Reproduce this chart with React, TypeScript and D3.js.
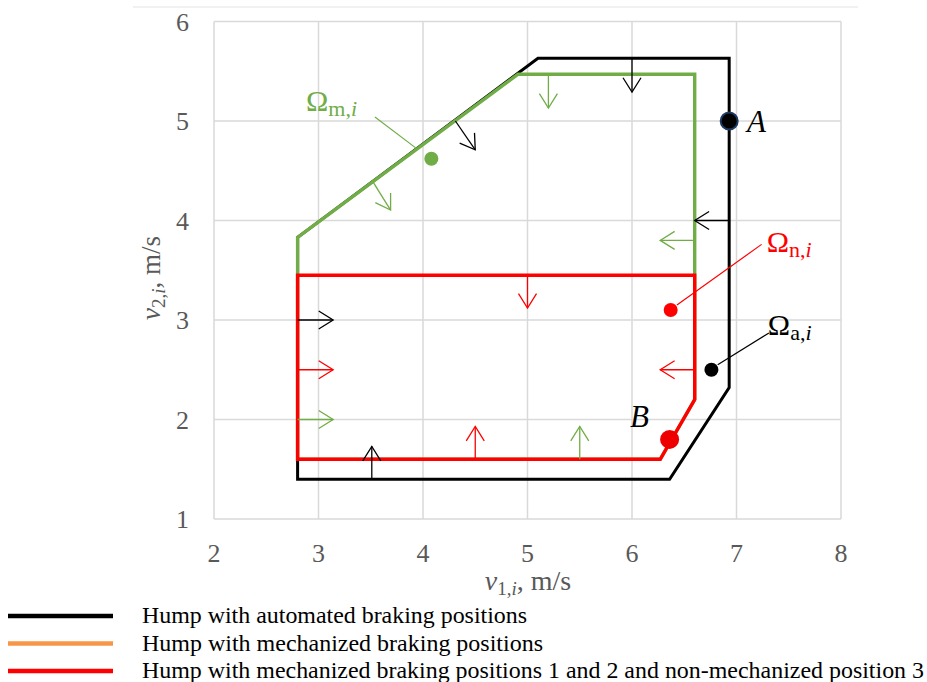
import React from "react";
import * as d3 from "d3";

const xTicks = [2, 3, 4, 5, 6, 7, 8];
const yTicks = [1, 2, 3, 4, 5, 6];

// Regions (v1, v2)
const automatedRegion: [number, number][] = [
  [2.8, 1.4], [6.36, 1.4], [6.93, 2.32], [6.93, 5.63], [5.1, 5.63], [2.8, 3.83],
];
const mechanizedRegion: [number, number][] = [
  [2.8, 3.83], [4.91, 5.47], [6.6, 5.47], [6.6, 2.2], [6.27, 1.6], [2.8, 1.6],
];
const mixedRegion: [number, number][] = [
  [2.8, 3.45], [6.6, 3.45], [6.6, 2.2], [6.27, 1.6], [2.8, 1.6],
];

type Arrow = { from: [number, number]; to: [number, number]; color: string };
const BLACK = "#000000";
const GREEN = "#70ad47";
const RED = "#ff0000";
const ORANGE = "#f79646";

const arrowsAutomated: Arrow[] = [
  { from: [4.31, 5.0], to: [4.5, 4.71], color: BLACK },
  { from: [6.0, 5.63], to: [6.0, 5.29], color: BLACK },
  { from: [6.93, 4.0], to: [6.6, 4.0], color: BLACK },
  { from: [2.8, 3.0], to: [3.14, 3.0], color: BLACK },
  { from: [3.51, 1.4], to: [3.51, 1.73], color: BLACK },
];
const arrowsMechanized: Arrow[] = [
  { from: [3.52, 4.39], to: [3.69, 4.105], color: GREEN },
  { from: [5.2, 5.47], to: [5.2, 5.13], color: GREEN },
  { from: [6.6, 3.8], to: [6.27, 3.8], color: GREEN },
  { from: [2.8, 2.0], to: [3.14, 2.0], color: GREEN },
  { from: [5.5, 1.6], to: [5.5, 1.93], color: GREEN },
];
const arrowsMixed: Arrow[] = [
  { from: [5.0, 3.45], to: [5.0, 3.12], color: RED },
  { from: [2.8, 2.5], to: [3.14, 2.5], color: RED },
  { from: [6.6, 2.5], to: [6.27, 2.5], color: RED },
  { from: [4.5, 1.6], to: [4.5, 1.93], color: RED },
];

// Annotations: dot, leader line, label anchor
const regionLabels = [
  { sub: "m", color: GREEN, dot: [4.08, 4.62], lineFrom: [3.93, 4.73], lineTo: [3.54, 5.04], label: [2.88, 5.1] },
  { sub: "n", color: RED, dot: [6.37, 3.1], lineFrom: [6.43, 3.15], lineTo: [7.24, 3.76], label: [7.29, 3.68] },
  { sub: "a", color: BLACK, dot: [6.76, 2.5], lineFrom: [6.82, 2.55], lineTo: [7.31, 2.87], label: [7.3, 2.85] },
];
const pointA = { p: [6.93, 5.0], label: [7.1, 4.89], name: "A" };
const pointB = { p: [6.36, 1.8], label: [5.98, 1.925], name: "B" };

const legendItems = [
  { color: BLACK, text: "Hump with automated braking positions", width: 385 },
  { color: ORANGE, text: "Hump with mechanized braking positions", width: 401 },
  { color: RED, text: "Hump with mechanized braking positions 1 and 2 and non-mechanized position 3", width: 782 },
];

const W = 927;
const H = 682;
const SERIF = "'Liberation Serif', 'Times New Roman', serif";

export default function App() {
  const x = d3.scaleLinear().domain([2, 8]).range([214, 841]);
  const y = d3.scaleLinear().domain([1, 6]).range([519, 21.5]);
  const line = d3
    .line<[number, number]>()
    .x((d) => x(d[0]))
    .y((d) => y(d[1]))
    .curve(d3.curveLinearClosed);

  const arrowEl = (a: Arrow, i: number) => {
    const x1 = x(a.from[0]);
    const y1 = y(a.from[1]);
    const x2 = x(a.to[0]);
    const y2 = y(a.to[1]);
    const ang = Math.atan2(y2 - y1, x2 - x1);
    const L = 17;
    const half = (32 * Math.PI) / 180;
    const w1 = [x2 - L * Math.cos(ang - half), y2 - L * Math.sin(ang - half)];
    const w2 = [x2 - L * Math.cos(ang + half), y2 - L * Math.sin(ang + half)];
    return (
      <g key={i} stroke={a.color} strokeWidth={1.3} fill="none">
        <line x1={x1} y1={y1} x2={x2} y2={y2} />
        <polyline points={`${w1[0]},${w1[1]} ${x2},${y2} ${w2[0]},${w2[1]}`} />
      </g>
    );
  };

  return (
    <svg
      width={W}
      height={H}
      style={{ position: "absolute", left: 0, top: 0, background: "#fff", fontFamily: SERIF }}
      fontFamily={SERIF}
    >
      <rect x={0} y={0} width={W} height={H} fill="#fff" />
      <line x1={133} x2={858} y1={7} y2={7} stroke="#ededed" strokeWidth={1.5} />
      {/* grid */}
      {xTicks.map((t) => (
        <line key={"gx" + t} x1={x(t)} x2={x(t)} y1={y(1)} y2={y(6)} stroke="#d9d9d9" strokeWidth={1.5} />
      ))}
      {yTicks.map((t) => (
        <line key={"gy" + t} y1={y(t)} y2={y(t)} x1={x(2)} x2={x(8)} stroke="#d9d9d9" strokeWidth={1.5} />
      ))}
      {/* tick labels */}
      {xTicks.map((t) => (
        <text key={"tx" + t} x={x(t)} y={562} textAnchor="middle" fontSize={26} fill="#595959">
          {t}
        </text>
      ))}
      {yTicks.map((t) => (
        <text key={"ty" + t} x={189} y={y(t) + 9} textAnchor="end" fontSize={26} fill="#595959">
          {t}
        </text>
      ))}
      {/* axis titles */}
      <text x={528} y={590} textAnchor="middle" fontSize={28} fill="#595959">
        <tspan fontStyle="italic">v</tspan>
        <tspan fontSize={19} dy={5}>1,</tspan>
        <tspan fontSize={19} fontStyle="italic">i</tspan>
        <tspan dy={-5}>, m/s</tspan>
      </text>
      <text
        transform={`translate(160, 278) rotate(-90)`}
        textAnchor="middle"
        fontSize={27}
        fill="#595959"
      >
        <tspan fontStyle="italic">v</tspan>
        <tspan fontSize={19} dy={5}>2,</tspan>
        <tspan fontSize={19} fontStyle="italic">i</tspan>
        <tspan dy={-5}>, m/s</tspan>
      </text>

      {/* regions */}
      <path d={line(automatedRegion) || ""} fill="none" stroke={BLACK} strokeWidth={3} strokeLinejoin="miter" />
      <path d={line(mechanizedRegion) || ""} fill="none" stroke={GREEN} strokeWidth={3.4} strokeLinejoin="miter" />
      <path d={line(mixedRegion) || ""} fill="none" stroke={RED} strokeWidth={3.4} strokeLinejoin="miter" />

      {/* arrows */}
      {arrowsAutomated.map(arrowEl)}
      {arrowsMechanized.map((a, i) => arrowEl(a, 100 + i))}
      {arrowsMixed.map((a, i) => arrowEl(a, 200 + i))}

      {/* region labels */}
      {regionLabels.map((r, i) => (
        <g key={"rl" + i}>
          <line
            x1={x(r.lineFrom[0])}
            y1={y(r.lineFrom[1])}
            x2={x(r.lineTo[0])}
            y2={y(r.lineTo[1])}
            stroke={r.color}
            strokeWidth={1.2}
          />
          <circle cx={x(r.dot[0])} cy={y(r.dot[1])} r={7} fill={r.color} />
          <text x={x(r.label[0])} y={y(r.label[1])} fontSize={30} fill={r.color}>
            Ω
            <tspan fontSize={22} dy={5}>
              {r.sub},
            </tspan>
            <tspan fontSize={22} fontStyle="italic">
              i
            </tspan>
          </text>
        </g>
      ))}

      {/* points A & B */}
      <circle cx={x(pointA.p[0])} cy={y(pointA.p[1])} r={8.5} fill="#000" stroke="#1f3864" strokeWidth={2} />
      <text x={x(pointA.label[0])} y={y(pointA.label[1])} fontSize={31} fontStyle="italic" fill="#000">
        {pointA.name}
      </text>
      <circle cx={x(pointB.p[0])} cy={y(pointB.p[1])} r={9.5} fill="#ee0000" />
      <text x={x(pointB.label[0])} y={y(pointB.label[1])} fontSize={31} fontStyle="italic" fill="#000">
        {pointB.name}
      </text>

      {/* legend */}
      {legendItems.map((l, i) => (
        <g key={"lg" + i}>
          <line x1={8} x2={113} y1={616 + i * 27.5} y2={616 + i * 27.5} stroke={l.color} strokeWidth={4.5} />
          <text
            x={142}
            y={623 + i * 27.5}
            fontSize={24}
            fill="#000"
            textLength={l.width}
            lengthAdjust="spacingAndGlyphs"
          >
            {l.text}
          </text>
        </g>
      ))}
    </svg>
  );
}
